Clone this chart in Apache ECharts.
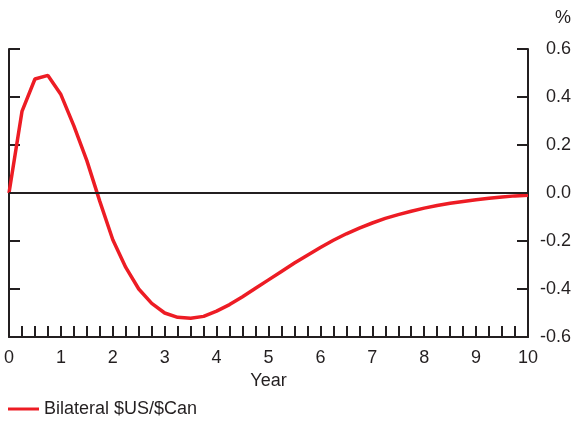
<!DOCTYPE html>
<html>
<head>
<meta charset="utf-8">
<script src="https://cdn.jsdelivr.net/npm/echarts@6/dist/echarts.min.js"></script>
<style>
  html, body { margin: 0; padding: 0; background: #fff; }
  #chart { width: 574px; height: 421px; }
</style>
</head>
<body>
<div id="chart"></div>
<script>
// quarterly steps, in years
const years = [
  0, 0.25, 0.5, 0.75, 1, 1.25, 1.5, 1.75, 2, 2.25, 2.5, 2.75, 3, 3.25, 3.5, 3.75,
  4, 4.25, 4.5, 4.75, 5, 5.25, 5.5, 5.75, 6, 6.25, 6.5, 6.75, 7, 7.25, 7.5, 7.75,
  8, 8.25, 8.5, 8.75, 9, 9.25, 9.5, 9.75, 10
]
// Bilateral $US/$Can response, %
const bilateral = [
  0, 0.34, 0.475, 0.49, 0.41, 0.28, 0.135, -0.035, -0.195, -0.31, -0.40, -0.46, -0.50, -0.518, -0.522, -0.514,
  -0.492, -0.465, -0.432, -0.397, -0.362, -0.327, -0.292, -0.259, -0.227, -0.197, -0.17, -0.146, -0.125, -0.106, -0.09, -0.076,
  -0.063, -0.052, -0.043, -0.035, -0.028, -0.022, -0.017, -0.012, -0.009
]
const seriesName = 'Bilateral $US/$Can'

const points = []
for (let i = 0; i < years.length; i++) {
  points.push([years[i], bilateral[i]])
}

const ink = '#231f20'
const font = 'Liberation Sans, Arial, sans-serif'
const fs = 18

const myChart = echarts.init(document.getElementById('chart'))
myChart.setOption({
  animation: false,
  grid: { left: 9, right: 45, top: 49, bottom: 84 },
  graphic: [
    {
      type: 'text',
      left: 555,
      top: 9,
      style: { text: '%', fill: ink, font: fs + 'px ' + font }
    }
  ],
  legend: {
    left: 8,
    top: 400,
    padding: 0,
    icon: 'rect',
    itemWidth: 31,
    itemHeight: 3,
    textStyle: { color: ink, fontSize: fs, fontFamily: font },
    data: [seriesName]
  },
  xAxis: {
    type: 'value',
    min: 0,
    max: 10,
    interval: 1,
    name: 'Year',
    nameLocation: 'middle',
    nameGap: 33,
    nameTextStyle: { color: ink, fontSize: fs, fontFamily: font },
    axisLine: { onZero: false, lineStyle: { color: ink, width: 2 } },
    axisTick: { inside: true, length: 11, lineStyle: { color: ink, width: 2 } },
    minorTick: { show: true, splitNumber: 4, length: 11, lineStyle: { color: ink, width: 2 } },
    axisLabel: { color: ink, fontSize: fs, fontFamily: font, margin: 12 },
    splitLine: { show: false }
  },
  yAxis: [
    {
      type: 'value',
      position: 'left',
      min: -0.6,
      max: 0.6,
      interval: 0.2,
      axisLine: { show: true, onZero: false, lineStyle: { color: ink, width: 2 } },
      axisTick: { show: true, inside: true, length: 11, lineStyle: { color: ink, width: 2 } },
      axisLabel: { show: false },
      splitLine: { show: false }
    },
    {
      type: 'value',
      position: 'right',
      min: -0.6,
      max: 0.6,
      interval: 0.2,
      axisLine: { show: true, onZero: false, lineStyle: { color: ink, width: 2 } },
      axisTick: { show: true, inside: true, length: 11, lineStyle: { color: ink, width: 2 } },
      axisLabel: {
        color: ink,
        fontSize: fs,
        fontFamily: font,
        align: 'right',
        margin: 43,
        formatter: v => v.toFixed(1)
      },
      splitLine: { show: false }
    }
  ],
  series: [
    {
      name: seriesName,
      type: 'line',
      data: points,
      showSymbol: false,
      smooth: false,
      lineStyle: { color: '#ed1c24', width: 3.5 },
      itemStyle: { color: '#ed1c24' },
      markLine: {
        silent: true,
        symbol: 'none',
        label: { show: false },
        lineStyle: { color: ink, width: 2, type: 'solid' },
        data: [{ yAxis: 0 }]
      },
      z: 3
    }
  ]
})
</script>
</body>
</html>
